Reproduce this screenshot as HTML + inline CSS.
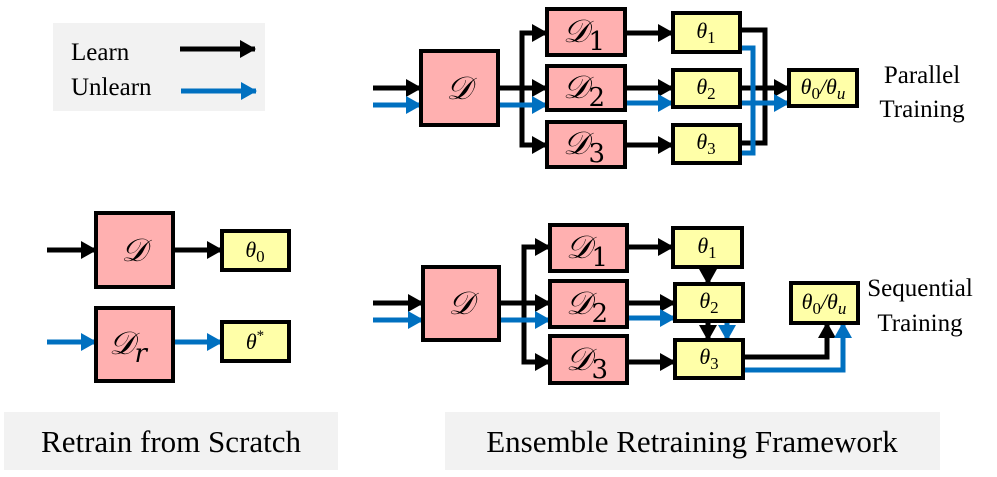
<!DOCTYPE html>
<html><head><meta charset="utf-8"><style>
html,body{margin:0;padding:0;background:#fff;}
svg{display:block;}
</style></head><body>
<svg width="997" height="477" viewBox="0 0 997 477" xmlns="http://www.w3.org/2000/svg" font-family="'Liberation Serif','DejaVu Serif',serif">
<defs>
<marker id="ak" markerUnits="userSpaceOnUse" markerWidth="16" markerHeight="18" refX="15" refY="9" orient="auto"><path d="M0,0 L16,9 L0,18 Z" fill="#000"/></marker>
<marker id="ab" markerUnits="userSpaceOnUse" markerWidth="16" markerHeight="18" refX="15" refY="9" orient="auto"><path d="M0,0 L16,9 L0,18 Z" fill="#0070c0"/></marker>
</defs>
<g fill="none" stroke-width="5">
<rect x="53" y="23" width="212" height="88" fill="#f2f2f2" stroke="none"/>
<rect x="4" y="412" width="334" height="58" fill="#f2f2f2" stroke="none"/>
<rect x="445" y="412" width="495" height="58" fill="#f2f2f2" stroke="none"/>
<line x1="180" y1="49" x2="255" y2="49" stroke="#000" marker-end="url(#ak)"/>
<line x1="181" y1="91" x2="256" y2="91" stroke="#0070c0" marker-end="url(#ab)"/>

<line x1="47" y1="250" x2="96" y2="250" stroke="#000" marker-end="url(#ak)"/>
<line x1="173" y1="250" x2="222" y2="250" stroke="#000" marker-end="url(#ak)"/>
<line x1="47" y1="342" x2="96" y2="342" stroke="#0070c0" marker-end="url(#ab)"/>
<line x1="173" y1="342" x2="222" y2="342" stroke="#0070c0" marker-end="url(#ab)"/>

<line x1="373" y1="88" x2="421" y2="88" stroke="#000" marker-end="url(#ak)"/>
<line x1="373" y1="105" x2="421" y2="105" stroke="#0070c0" marker-end="url(#ab)"/>
<path d="M498,88 H547" stroke="#000" marker-end="url(#ak)"/>
<path d="M522,88 V33 H547" stroke="#000" marker-end="url(#ak)"/>
<path d="M522,88 V145 H547" stroke="#000" marker-end="url(#ak)"/>
<path d="M498,105 H547" stroke="#0070c0" marker-end="url(#ab)"/>
<path d="M625,33 H673" stroke="#000" marker-end="url(#ak)"/>
<path d="M625,88 H673" stroke="#000" marker-end="url(#ak)"/>
<path d="M625,103 H673" stroke="#0070c0" marker-end="url(#ab)"/>
<path d="M625,145 H673" stroke="#000" marker-end="url(#ak)"/>
<path d="M740,30 H765 V143 H740" stroke="#000"/>
<path d="M740,88 H789" stroke="#000" marker-end="url(#ak)"/>
<path d="M740,48 H753 V153 H740" stroke="#0070c0"/>
<path d="M740,103 H789" stroke="#0070c0" marker-end="url(#ab)"/>

<line x1="373" y1="303" x2="423" y2="303" stroke="#000" marker-end="url(#ak)"/>
<line x1="373" y1="320" x2="423" y2="320" stroke="#0070c0" marker-end="url(#ab)"/>
<path d="M499,303 H550" stroke="#000" marker-end="url(#ak)"/>
<path d="M524,303 V247 H550" stroke="#000" marker-end="url(#ak)"/>
<path d="M524,303 V362 H550" stroke="#000" marker-end="url(#ak)"/>
<path d="M499,320 H550" stroke="#0070c0" marker-end="url(#ab)"/>
<path d="M627,247 H673" stroke="#000" marker-end="url(#ak)"/>
<path d="M627,303 H675" stroke="#000" marker-end="url(#ak)"/>
<path d="M627,318 H675" stroke="#0070c0" marker-end="url(#ab)"/>
<path d="M627,362 H675" stroke="#000" marker-end="url(#ak)"/>
<path d="M708,267 V284" stroke="#000" marker-end="url(#ak)"/>
<path d="M708,321 V340" stroke="#000" marker-end="url(#ak)"/>
<path d="M727,321 V340" stroke="#0070c0" marker-end="url(#ab)"/>
<path d="M743,357 H827 V323" stroke="#000" marker-end="url(#ak)"/>
<path d="M743,370 H843 V323" stroke="#0070c0" marker-end="url(#ab)"/>
</g>

<g stroke="#000" stroke-width="4">
<rect x="96" y="213" width="77" height="74" fill="#ffb0b0"/>
<rect x="96" y="308" width="77" height="73" fill="#ffb0b0"/>
<rect x="222" y="231" width="67" height="39" fill="#ffffa8"/>
<rect x="222" y="322" width="67" height="39" fill="#ffffa8"/>

<rect x="421" y="51" width="77" height="74" fill="#ffb0b0"/>
<rect x="547" y="9" width="78" height="46" fill="#ffb0b0"/>
<rect x="547" y="66" width="78" height="44" fill="#ffb0b0"/>
<rect x="547" y="122" width="78" height="45" fill="#ffb0b0"/>
<rect x="673" y="13" width="67" height="39" fill="#ffffa8"/>
<rect x="673" y="70" width="67" height="37" fill="#ffffa8"/>
<rect x="673" y="125" width="67" height="38" fill="#ffffa8"/>
<rect x="789" y="70" width="68" height="36" fill="#ffffa8"/>

<rect x="423" y="267" width="76" height="73" fill="#ffb0b0"/>
<rect x="550" y="225" width="77" height="46" fill="#ffb0b0"/>
<rect x="550" y="281" width="77" height="46" fill="#ffb0b0"/>
<rect x="550" y="336" width="77" height="47" fill="#ffb0b0"/>
<rect x="673" y="228" width="69" height="39" fill="#ffffa8"/>
<rect x="675" y="284" width="68" height="37" fill="#ffffa8"/>
<rect x="675" y="340" width="68" height="38" fill="#ffffa8"/>
<rect x="791" y="283" width="67" height="40" fill="#ffffa8"/>
</g>

<g font-size="25" fill="#000" font-family="'Liberation Serif',serif">
<text x="71" y="60">Learn</text>
<text x="71" y="95">Unlearn</text>
<text x="922" y="83" text-anchor="middle">Parallel</text>
<text x="922" y="117" text-anchor="middle">Training</text>
<text x="920" y="296" text-anchor="middle">Sequential</text>
<text x="920" y="331" text-anchor="middle">Training</text>
<text x="171" y="452" text-anchor="middle" font-size="31">Retrain from Scratch</text>
<text x="692" y="452" text-anchor="middle" font-size="31">Ensemble Retraining Framework</text>
</g>

<g fill="#000" font-size="32" text-anchor="middle" font-family="'DejaVu Serif','Liberation Serif',serif" font-style="italic">
<text x="134" y="261">𝒟</text>
<text x="128" y="354">𝒟<tspan font-size="26" dy="8">r</tspan></text>
<text x="459" y="99">𝒟</text>
<text x="461" y="314">𝒟</text>
<text x="584" y="42">𝒟<tspan font-size="26" dy="8" font-style="normal">1</tspan></text>
<text x="584" y="98">𝒟<tspan font-size="26" dy="8" font-style="normal">2</tspan></text>
<text x="584" y="154">𝒟<tspan font-size="26" dy="8" font-style="normal">3</tspan></text>
<text x="587" y="258">𝒟<tspan font-size="26" dy="8" font-style="normal">1</tspan></text>
<text x="587" y="314">𝒟<tspan font-size="26" dy="8" font-style="normal">2</tspan></text>
<text x="587" y="370">𝒟<tspan font-size="26" dy="8" font-style="normal">3</tspan></text>
</g>
<g fill="#000" font-size="22" text-anchor="middle" font-family="'Liberation Serif',serif" font-style="italic">
<text x="255" y="257">θ<tspan font-size="17" dy="5" font-style="normal">0</tspan></text>
<text x="255" y="349">θ<tspan font-size="15" dy="-9" font-style="normal">*</tspan></text>
<text x="706" y="38">θ<tspan font-size="17" dy="5" font-style="normal">1</tspan></text>
<text x="706" y="94">θ<tspan font-size="17" dy="5" font-style="normal">2</tspan></text>
<text x="706" y="149">θ<tspan font-size="17" dy="5" font-style="normal">3</tspan></text>
<text x="823" y="94">θ<tspan font-size="17" dy="5" font-style="normal">0</tspan><tspan dy="-5">/θ</tspan><tspan font-size="17" dy="5">u</tspan></text>
<text x="707" y="253">θ<tspan font-size="17" dy="5" font-style="normal">1</tspan></text>
<text x="709" y="308">θ<tspan font-size="17" dy="5" font-style="normal">2</tspan></text>
<text x="709" y="364">θ<tspan font-size="17" dy="5" font-style="normal">3</tspan></text>
<text x="824" y="309">θ<tspan font-size="17" dy="5" font-style="normal">0</tspan><tspan dy="-5">/θ</tspan><tspan font-size="17" dy="5">u</tspan></text>
</g>
</svg>
</body></html>
